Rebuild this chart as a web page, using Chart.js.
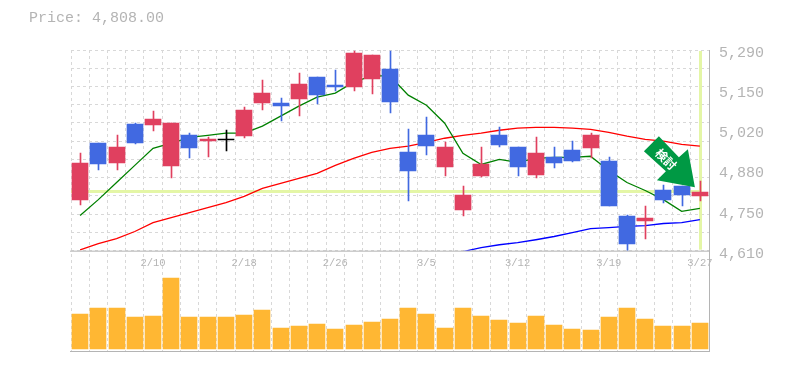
<!DOCTYPE html>
<html>
<head>
<meta charset="utf-8">
<script src="https://cdn.jsdelivr.net/npm/chart.js@4.5.0/dist/chart.umd.js"></script>
<style>
  html, body { margin: 0; padding: 0; background: #fff; }
  #wrap { position: relative; width: 785px; height: 370px; overflow: hidden; }
  #price { position: absolute; left: 29px; top: 10px; font: 15px "Liberation Mono", monospace; color: #b4b4b4; white-space: pre; }
</style>
</head>
<body>
<div id="wrap">
  <div id="price">Price: 4,808.00</div>
  <canvas id="chart" width="785" height="370"></canvas>
</div>
<script>
const dateLabels = ['', '', '', '', '2/10', '', '', '', '', '2/18', '', '', '', '', '2/26', '', '', '', '', '3/5', '', '', '', '', '3/12', '', '', '', '', '3/19', '', '', '', '', '3/27']
const opens = [4783, 4974, 4906, 5038, 5035, 4896, 5001, 4981, 4988, 4998, 5110, 5110, 5123, 5198, 5171, 5164, 5191, 5225, 4943, 5001, 4892, 4749, 4862, 5001, 4960, 4868, 4926, 4950, 4957, 4913, 4729, 4712, 4814, 4828, 4794]
const closes = [4906, 4902, 4960, 4974, 5055, 5042, 4957, 4987, 4985, 5086, 5144, 5100, 5174, 5137, 5164, 5280, 5273, 5113, 4879, 4964, 4960, 4797, 4902, 4967, 4892, 4940, 4906, 4913, 5001, 4763, 4634, 4722, 4783, 4800, 4808]
const highs = [4940, 4974, 5001, 5042, 5083, 5042, 5008, 4994, 5018, 5096, 5188, 5127, 5212, 5198, 5222, 5287, 5273, 5287, 5021, 5062, 4977, 4828, 4960, 5028, 4960, 4994, 4960, 4981, 5008, 4926, 4732, 4760, 4834, 4828, 4845]
const lows = [4766, 4885, 4882, 4970, 5015, 4855, 4923, 4926, 4947, 4991, 5086, 5049, 5066, 5106, 5151, 5151, 5140, 5076, 4777, 4933, 4862, 4726, 4858, 4960, 4862, 4855, 4889, 4909, 4923, 4763, 4607, 4651, 4773, 4760, 4780]
const maShort = [4729, 4783, 4841, 4899, 4957, 4974, 4994, 5001, 5008, 5008, 5032, 5066, 5100, 5130, 5144, 5181, 5202, 5202, 5137, 5103, 5042, 4940, 4902, 4919, 4909, 4923, 4926, 4926, 4930, 4882, 4841, 4814, 4783, 4743, 4753]
const maMid = [4613, 4634, 4651, 4675, 4705, 4722, 4739, 4756, 4773, 4794, 4821, 4838, 4855, 4872, 4899, 4923, 4943, 4957, 4964, 4977, 4991, 5001, 5008, 5018, 5025, 5028, 5028, 5025, 5021, 5011, 4998, 4987, 4981, 4970, 4964]
const maLong = [null, null, null, null, null, null, null, null, null, null, null, null, null, null, null, null, null, null, null, null, null, 4607, 4620, 4630, 4637, 4647, 4658, 4671, 4685, 4688, 4692, 4695, 4702, 4705, 4715]
const volumes = [35, 41, 41, 32, 33, 71, 32, 32, 32, 34, 39, 21, 23, 25, 20, 24, 27, 30, 41, 35, 21, 41, 33, 29, 26, 33, 24, 20, 19, 32, 41, 30, 23, 23, 26]
const priceTickValues = [5290, 5154, 5018, 4882, 4746, 4610]
const priceTickLabels = ['5,290', '5,150', '5,020', '4,880', '4,750', '4,610']
const lastPrice = 4808
const arrowText = '検討'

const RED = '#e0405f'
const BLUE = '#4169e1'
const GRID = '#d8d8d8'
const TEXT = '#b4b4b4'
const MONO = '"Liberation Mono", monospace'

const candleColors = opens.map((o, i) => {
  if (Math.abs(o - closes[i]) < 4) return '#000'
  return closes[i] > o ? RED : BLUE
})

// grid is 11 rows, labels only every 136, so the tick list holds both
const priceGridValues = []
for (let k = 0; k <= 11; k++) priceGridValues.push(4610 + (680 / 11) * k)
const isLabelTick = v => priceTickValues.includes(v)

// bars land on fractional pixels, snap them so 1px wicks stay sharp
const snapBars = {
  id: 'snapBars',
  afterDatasetsUpdate(chart) {
    chart.getSortedVisibleDatasetMetas().forEach(meta => {
      if (meta.type !== 'bar') return
      meta.data.forEach(el => {
        el.x = Math.round(el.x) + (el.width % 2 ? 0.5 : 0)
        el.y = Math.round(el.y)
        el.base = Math.round(el.base)
      })
    })
  }
}

// pale cross at the last price / last date
const lastCross = {
  id: 'lastCross',
  beforeDatasetsDraw(chart) {
    const { ctx, scales: { x, price } } = chart
    const px = x.getPixelForValue(dateLabels.length - 1)
    const py = price.getPixelForValue(lastPrice)
    ctx.save()
    ctx.fillStyle = '#e4f6a6'
    ctx.fillRect(x.left, Math.round(py) - 2, px - x.left, 3)
    ctx.fillRect(Math.round(px) - 1, price.top + 1, 3, price.bottom - price.top - 2)
    ctx.restore()
  }
}

const panelRules = {
  id: 'panelRules',
  afterDatasetsDraw(chart) {
    const { ctx, scales: { x, price, vol } } = chart
    ctx.save()
    ctx.strokeStyle = TEXT
    ctx.lineWidth = 1
    ;[price.bottom, vol.bottom].forEach(y => {
      ctx.beginPath()
      ctx.moveTo(x.left - 1, y + 0.5)
      ctx.lineTo(x.right + 1, y + 0.5)
      ctx.stroke()
    })
    ctx.restore()
  }
}

// green call-out arrow pointing at the last candle
const callout = {
  id: 'callout',
  afterDatasetsDraw(chart) {
    const { ctx, scales: { x, price } } = chart
    const tipX = x.getPixelForValue(dateLabels.length - 1) - 5
    const tipY = price.getPixelForValue(lastPrice) - 5
    const outline = [[-51, -36], [-36, -51], [-16, -30], [-7, -38], [0, 0], [-38, -7], [-29, -16]]
    ctx.save()
    ctx.fillStyle = '#009944'
    ctx.beginPath()
    outline.forEach(([dx, dy], i) => {
      if (i === 0) ctx.moveTo(tipX + dx, tipY + dy)
      else ctx.lineTo(tipX + dx, tipY + dy)
    })
    ctx.closePath()
    ctx.fill()
    ctx.translate(tipX - 29, tipY - 28)
    ctx.rotate(Math.PI / 4)
    ctx.fillStyle = '#fff'
    ctx.font = 'bold 12px "Noto Sans CJK JP"'
    ctx.textAlign = 'center'
    ctx.textBaseline = 'middle'
    ctx.fillText(arrowText, 0, 0)
    ctx.restore()
  }
}

new Chart(document.getElementById('chart'), {
  data: {
    labels: dateLabels,
    datasets: [
      { type: 'line', data: maLong, yAxisID: 'price', borderColor: '#0000ff', borderWidth: 1.3, pointRadius: 0, tension: 0, order: 5 },
      { type: 'line', data: maMid, yAxisID: 'price', borderColor: '#ff0000', borderWidth: 1.3, pointRadius: 0, tension: 0, order: 4 },
      { type: 'line', data: maShort, yAxisID: 'price', borderColor: '#008000', borderWidth: 1.3, pointRadius: 0, tension: 0, order: 3 },
      { type: 'bar', data: highs.map((h, i) => [lows[i], h]), yAxisID: 'price', backgroundColor: candleColors, barThickness: 1, grouped: false, order: 2 },
      { type: 'bar', data: opens.map((o, i) => [o, closes[i]]), yAxisID: 'price', backgroundColor: candleColors, barThickness: 16, grouped: false, order: 1 },
      { type: 'bar', data: volumes, yAxisID: 'vol', backgroundColor: '#ffb733', barThickness: 16, grouped: false, order: 1 }
    ]
  },
  options: {
    responsive: false,
    animation: false,
    layout: { padding: { left: 71, top: 50, bottom: 19, right: 0 } },
    plugins: { legend: { display: false }, tooltip: { enabled: false } },
    scales: {
      x: {
        type: 'category',
        position: { vol: 98 },
        offset: true,
        grid: { color: GRID, offset: true, drawTicks: false },
        border: { display: false, dash: [3, 3] },
        ticks: {
          autoSkip: false,
          maxRotation: 0,
          padding: 6,
          color: TEXT,
          font: { family: MONO, size: 10.5 }
        }
      },
      price: {
        type: 'linear',
        position: 'right',
        stack: 'panes',
        stackWeight: 2,
        min: 4610,
        max: 5290,
        afterFit(scale) { scale.width = 76 },
        afterBuildTicks(scale) {
          const extra = priceTickValues.slice(1, -1)
          scale.ticks = priceGridValues.slice(1, -1).concat(extra, priceTickValues[0], priceTickValues[5])
            .sort((a, b) => a - b)
            .map(value => ({ value }))
        },
        grid: {
          drawTicks: false,
          color: ctx => (ctx.tick && isLabelTick(ctx.tick.value) && ctx.tick.value !== 5290 && ctx.tick.value !== 4610 ? 'transparent' : GRID)
        },
        border: { color: TEXT, dash: [3, 3] },
        ticks: {
          autoSkip: false,
          padding: 10,
          labelOffset: 3,
          color: TEXT,
          font: { family: MONO, size: 15 },
          callback: value => {
            const i = priceTickValues.indexOf(value)
            return i < 0 ? '' : priceTickLabels[i]
          }
        }
      },
      vol: {
        type: 'linear',
        position: 'right',
        stack: 'panes',
        stackWeight: 1,
        min: -2,
        max: 98,
        afterFit(scale) { scale.width = 76 },
        grid: { display: false },
        border: { color: TEXT },
        ticks: { display: false }
      }
    }
  },
  plugins: [snapBars, lastCross, panelRules, callout]
})
</script>
</body>
</html>
